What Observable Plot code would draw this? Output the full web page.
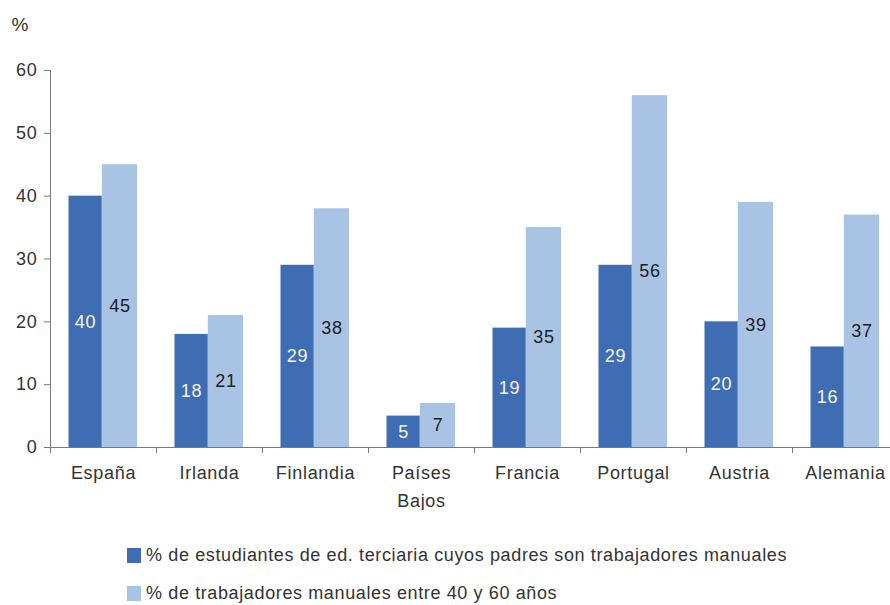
<!DOCTYPE html>
<html>
<head>
<meta charset="utf-8">
<script src="https://cdn.jsdelivr.net/npm/d3@7"></script>
<script src="https://cdn.jsdelivr.net/npm/@observablehq/plot@0.6"></script>
<style>
  body { margin: 0; background: #fff; font-family: "Liberation Sans", Arial, sans-serif; }
  #wrap { position: relative; width: 890px; height: 605px; overflow: hidden; }
  #legend { position: absolute; left: 127px; top: 543px; font-size: 18px; line-height: 22px; letter-spacing: 0.62px; color: #333; }
  .item { display: flex; align-items: center; height: 24px; margin-bottom: 14px; white-space: nowrap; }
  .sw { width: 14px; height: 15px; margin-right: 5px; flex: none; }
</style>
</head>
<body>
<div id="wrap">
  <div id="chart"></div>
  <div id="legend"></div>
</div>
<script>
const countries = ["España", "Irlanda", "Finlandia", "Países Bajos", "Francia", "Portugal", "Austria", "Alemania"];
const students = [40, 18, 29, 5, 19, 29, 20, 16];
const workers = [45, 21, 38, 7, 35, 56, 39, 37];
const seriesNames = [
  "% de estudiantes de ed. terciaria cuyos padres son trabajadores manuales",
  "% de trabajadores manuales entre 40 y 60 años"
];
const seriesColors = ["#3f6db3", "#a9c3e5"];
const yTicks = [0, 10, 20, 30, 40, 50, 60];

const dataA = countries.map((c, i) => ({country: c, value: students[i]}));
const dataB = countries.map((c, i) => ({country: c, value: workers[i]}));

const W = 890, ML = 50, MR = -8;
const bw = (W - ML - MR) / countries.length;

const chart = Plot.plot({
  width: W,
  height: 510,
  marginLeft: ML,
  marginRight: MR,
  marginTop: 70,
  marginBottom: 63,
  style: {fontFamily: "'Liberation Sans', Arial, sans-serif", fontSize: "18px", letterSpacing: "0.7px", color: "#333", background: "#fff"},
  x: {domain: countries, paddingInner: 0, paddingOuter: 0},
  y: {domain: [0, 60]},
  marks: [
    Plot.barY(dataA, {x: "country", y: "value", fill: seriesColors[0], insetLeft: 18.5, insetRight: bw - 51.8}),
    Plot.barY(dataB, {x: "country", y: "value", fill: seriesColors[1], insetLeft: 51.8, insetRight: bw - 87}),
    Plot.text(dataA, {x: "country", y: d => d.value / 2, text: d => String(d.value), dx: -18, fill: "#f4f6fb", fontSize: 18}),
    Plot.text(dataB, {x: "country", y: d => d.value / 2, text: d => String(d.value), dx: 16.5, fill: "#1c1c24", fontSize: 18}),
    Plot.axisY({ticks: yTicks, tickSize: 6, tickPadding: 7, label: null, stroke: "#7a7a7a", fill: "#333", fontSize: 18}),
    Plot.ruleX([0], {x: () => countries[0], dx: -bw / 2, y1: 0, y2: 60, stroke: "#7a7a7a"}),
    Plot.ruleY([0], {stroke: "#7a7a7a"}),
    Plot.axisX({tickSize: 6, tickFormat: () => "", dx: -bw / 2, stroke: "#7a7a7a", label: null}),
    Plot.axisX({tickSize: 0, tickPadding: 12, label: null, fill: "#333", fontSize: 18, lineHeight: 1.55,
      tickFormat: d => d === "Países Bajos" ? "Países\nBajos" : d}),
    Plot.text(["%"], {frameAnchor: "top-left", dx: -39, dy: -53, fill: "#333", fontSize: 19})
  ]
});
document.getElementById("chart").appendChild(chart);

const legend = document.getElementById("legend");
seriesNames.forEach((name, i) => {
  const item = document.createElement("div");
  item.className = "item";
  const sw = document.createElement("span");
  sw.className = "sw";
  sw.style.background = seriesColors[i];
  const t = document.createElement("span");
  t.textContent = name;
  item.appendChild(sw);
  item.appendChild(t);
  legend.appendChild(item);
});
</script>
</body>
</html>
